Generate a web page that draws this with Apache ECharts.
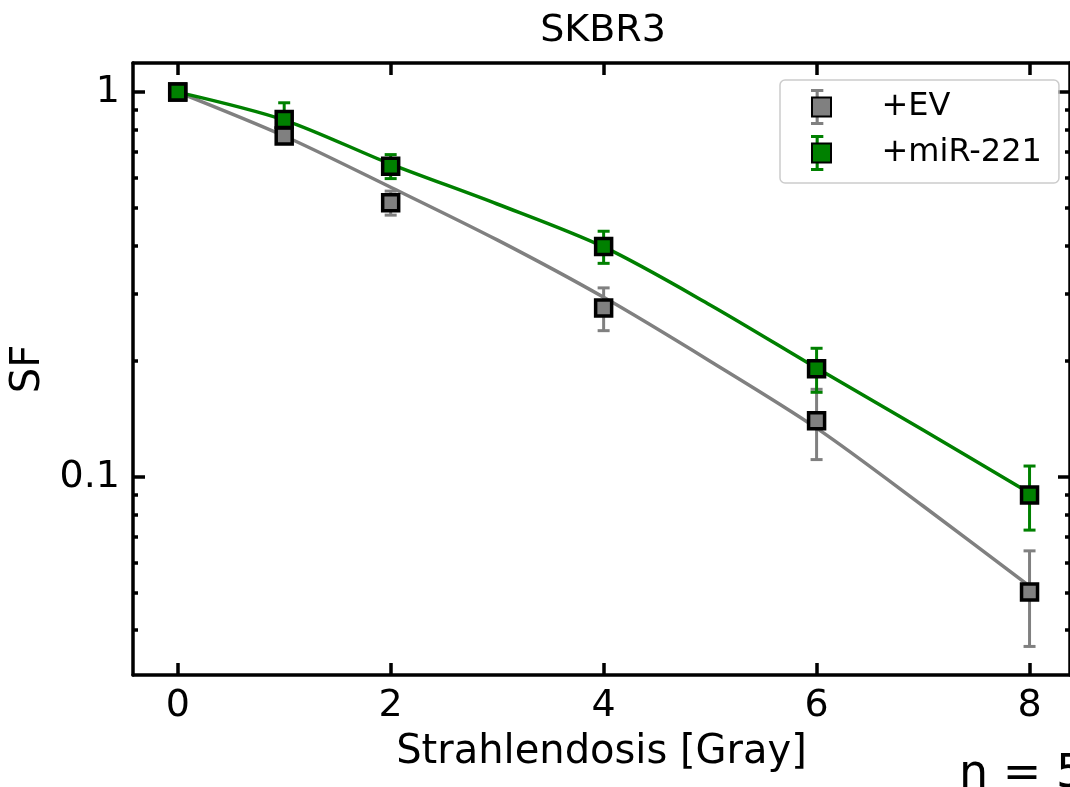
<!DOCTYPE html>
<html>
<head>
<meta charset="utf-8">
<script src="https://cdn.jsdelivr.net/npm/echarts@6/dist/echarts.min.js"></script>
<style>
  html, body { margin: 0; padding: 0; background: #fff; }
  #chart { width: 1070px; height: 787px; }
</style>
</head>
<body>
<div id="chart"></div>
<script>
// Messpunkte (Mittelwert +/- Fehler)
var doses = [0, 1, 2, 4, 6, 8];
var evMean = [1, 0.769, 0.516, 0.275, 0.140, 0.0503];
var evErr = [0, 0.02, 0.037, 0.035, 0.029, 0.014];
var mirMean = [1, 0.849, 0.642, 0.397, 0.191, 0.0898];
var mirErr = [0, 0.089, 0.046, 0.038, 0.025, 0.017];

// Fitkurven
var fitDoses = [0, 1, 2, 3, 4, 5, 6, 7, 8];
var evFit = [1, 0.769, 0.566, 0.413, 0.293, 0.200, 0.134, 0.0841, 0.0521];
var mirFit = [1, 0.846, 0.650, 0.512, 0.396, 0.280, 0.192, 0.1325, 0.0909];

// Achsen
var xTicks = [0, 2, 4, 6, 8];
var yTicks = [0.1, 1];
var yMinorTicks = [0.04, 0.05, 0.06, 0.07, 0.08, 0.09, 0.2, 0.3, 0.4, 0.5, 0.6, 0.7, 0.8, 0.9];

var GRAY = '#808080';
var GREEN = '#008000';
var FONT = 'DejaVu Sans';

function pairs(xs, ys) {
  return xs.map(function (x, i) { return [x, ys[i]]; });
}
function bars(xs, m, e) {
  return xs.map(function (x, i) { return [x, m[i] - e[i], m[i] + e[i]]; });
}

// Fehlerbalken mit Kappen
function renderErr(params, api) {
  var x = api.value(0);
  var lo = api.value(1);
  var hi = api.value(2);
  if (hi <= lo) return;
  var top = api.coord([x, hi]);
  var bot = api.coord([x, lo]);
  var w = 6;
  var style = { stroke: api.visual('color'), lineWidth: 3 };
  return {
    type: 'group',
    children: [
      { type: 'line', shape: { x1: top[0], y1: top[1], x2: bot[0], y2: bot[1] }, style: style },
      { type: 'line', shape: { x1: top[0] - w, y1: top[1], x2: top[0] + w, y2: top[1] }, style: style },
      { type: 'line', shape: { x1: bot[0] - w, y1: bot[1], x2: bot[0] + w, y2: bot[1] }, style: style }
    ]
  };
}

var axisLine = { show: true, onZero: false, lineStyle: { color: '#000', width: 3.5 } };
var yMin = 0.0306, yMax = 1.19;
var xMin = -0.42, xMax = 8.38;

function yAxisCfg(pos, ticks, len, line, labels) {
  return {
    type: 'log', logBase: 10, position: pos, min: yMin, max: yMax,
    axisLine: line ? axisLine : { show: false, onZero: false },
    axisTick: { show: true, inside: true, length: len, customValues: ticks, lineStyle: { color: '#000', width: 3.5 } },
    axisLabel: labels ? { show: true, customValues: ticks, fontSize: 38, fontFamily: FONT, color: '#000', margin: 13 } : { show: false },
    splitLine: { show: false },
    minorTick: { show: false }
  };
}

var chart = echarts.init(document.getElementById('chart'), null, { renderer: 'canvas' });

var yMain = yAxisCfg('left', yTicks, 12, true, true);
yMain.name = 'SF';
yMain.nameLocation = 'middle';
yMain.nameRotate = 90;
yMain.nameGap = 83;
yMain.nameTextStyle = { fontSize: 40, fontFamily: FONT, color: '#000' };

var legendBase = {
  orient: 'vertical', left: 780, top: 80,
  padding: [9, 17, 12, 31],
  itemWidth: 30, itemGap: 10,
  selectedMode: false
};

chart.setOption({
  animation: false,
  backgroundColor: '#fff',
  title: {
    text: 'SKBR3', left: 603, top: 12, padding: 0, textAlign: 'center',
    textStyle: { fontSize: 38, fontWeight: 'normal', fontFamily: FONT, color: '#000' }
  },
  grid: { left: 133, top: 63, width: 939, height: 612 },
  legend: [
    Object.assign({}, legendBase, {
      data: ['+EV err', '+miR-221 err'],
      z: 4,
      itemHeight: 36,
      icon: 'path://M0,0H12V3H7.5V32H12V35H0V32H4.5V3H0Z',
      itemStyle: { borderWidth: 0 },
      formatter: function () { return ''; },
      textStyle: { fontSize: 32, lineHeight: 36, fontFamily: FONT }
    }),
    Object.assign({}, legendBase, {
      data: ['+EV', '+miR-221'],
      z: 6,
      itemHeight: 19,
      icon: 'path://M0,0H10V10H0Z',
      backgroundColor: 'transparent',
      borderColor: '#cccccc', borderWidth: 1.5, borderRadius: 5,
      textStyle: { fontSize: 32, lineHeight: 36, fontFamily: FONT, color: '#000', padding: [0, 0, 0, 40] }
    })
  ],
  xAxis: [
    {
      type: 'value', position: 'bottom', min: xMin, max: xMax,
      axisLine: axisLine,
      axisTick: { show: true, inside: true, length: 12, customValues: xTicks, lineStyle: { color: '#000', width: 3.5 } },
      axisLabel: { show: true, customValues: xTicks, fontSize: 38, fontFamily: FONT, color: '#000', margin: 12 },
      splitLine: { show: false },
      name: 'Strahlendosis [Gray]', nameLocation: 'middle', nameGap: 58,
      nameTextStyle: { fontSize: 40, fontFamily: FONT, color: '#000' }
    },
    {
      type: 'value', position: 'top', min: xMin, max: xMax,
      axisLine: axisLine,
      axisTick: { show: true, inside: true, length: 12, customValues: xTicks, lineStyle: { color: '#000', width: 3.5 } },
      axisLabel: { show: false },
      splitLine: { show: false }
    }
  ],
  yAxis: [
    yMain,
    yAxisCfg('left', yMinorTicks, 5, false, false),
    yAxisCfg('right', yTicks, 12, true, false),
    yAxisCfg('right', yMinorTicks, 5, false, false)
  ],
  graphic: [{
    type: 'text', left: 959, top: 752,
    style: { text: 'n = 5', fontSize: 46, fontFamily: FONT, fill: '#000' }
  }],
  series: [
    {
      name: 'EV fit', type: 'line', data: pairs(fitDoses, evFit),
      smooth: 0.3, showSymbol: false, symbol: 'none', z: 1,
      lineStyle: { color: GRAY, width: 3.5 }, itemStyle: { color: GRAY }
    },
    {
      name: 'miR-221 fit', type: 'line', data: pairs(fitDoses, mirFit),
      smooth: 0.3, showSymbol: false, symbol: 'none', z: 1,
      lineStyle: { color: GREEN, width: 3.5 }, itemStyle: { color: GREEN }
    },
    {
      name: '+EV err', type: 'custom', renderItem: renderErr, z: 2,
      encode: { x: 0, y: [1, 2] },
      itemStyle: { color: GRAY },
      data: bars(doses, evMean, evErr)
    },
    {
      name: '+miR-221 err', type: 'custom', renderItem: renderErr, z: 2,
      encode: { x: 0, y: [1, 2] },
      itemStyle: { color: GREEN },
      data: bars(doses, mirMean, mirErr)
    },
    {
      name: '+EV', type: 'scatter', symbol: 'rect', symbolSize: 16, z: 3,
      itemStyle: { color: GRAY, borderColor: '#000', borderWidth: 3.5, opacity: 1 },
      data: pairs(doses, evMean)
    },
    {
      name: '+miR-221', type: 'scatter', symbol: 'rect', symbolSize: 16, z: 3,
      itemStyle: { color: GREEN, borderColor: '#000', borderWidth: 3.5, opacity: 1 },
      data: pairs(doses, mirMean)
    }
  ]
});
</script>
</body>
</html>
